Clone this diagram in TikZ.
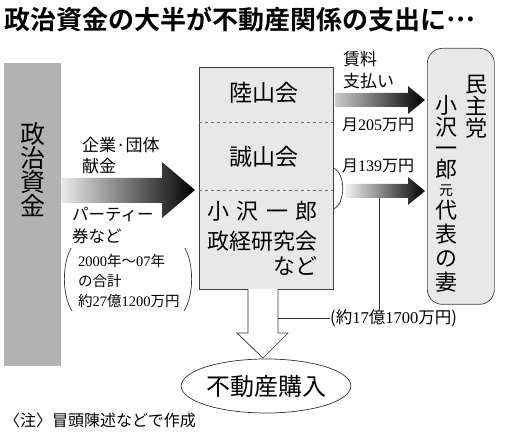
\documentclass[tikz,border=0pt]{standalone}
\usepackage{fontspec}
\setmainfont{Noto Sans CJK JP}[BoldFont={Noto Sans CJK JP Bold}]
\newfontfamily\dg{Liberation Serif}
\usetikzlibrary{shapes.geometric}
\definecolor{barGray}{HTML}{B2B2B2}
\definecolor{boxGray}{HTML}{E8E8E8}
\newcommand{\fs}[1]{\fontsize{#1}{#1}\selectfont}
\tikzset{
  lbl/.style={inner sep=0pt, font=\fs{17}},
  small/.style={inner sep=0pt, font=\fs{14.5}},
  big/.style={inner sep=0pt, font=\fs{23}},
  col/.style={inner sep=0pt, font=\fs{22}, text height=16pt, text depth=2.5pt},
  divider/.style={dashed, black!55, line width=0.6pt},
  thin/.style={line width=0.7pt, black!80}
}
\begin{document}
\begin{tikzpicture}[x=1pt,y=-1pt]
\useasboundingbox (0,0) rectangle (515,441);
\fill[white] (0,0) rectangle (515,441);
% title
\node[anchor=west, inner sep=0pt, font=\fs{26}\bfseries] (title) at (4,20) {政治資金の大半が不動産関係の支出に\raisebox{8pt}{…}};
% left bar
\node[fill=barGray, minimum width=57pt, minimum height=303pt, inner sep=0pt, anchor=north west] (bar) at (4,63) {};
\node[big, font=\fs{25}] (s1) at (33,134) {政};
\node[big, font=\fs{25}] (s2) at (33,158) {治};
\node[big, font=\fs{25}] (s3) at (33,182) {資};
\node[big, font=\fs{25}] (s4) at (33,206) {金};
% big gradient arrow
\shade[left color=black!8, right color=black] (61,178) -- (162,178) -- (162,162) -- (195,190) -- (162,218) -- (162,203) -- (61,203) -- cycle;
\node[lbl, anchor=west] (kigyo) at (82,145) {企業·団体};
\node[lbl, anchor=west] (kenkin) at (82,166) {献金};
\node[lbl, font=\fs{16.5}, anchor=west] (party) at (72,214) {パーティー};
\node[lbl, font=\fs{16.5}, anchor=west] (ken) at (72,236) {券など};
\node[small, anchor=west] (p1) at (78,261) {{\dg 2000}年～{\dg 07}年};
\node[small, anchor=west] (p2) at (78,281) {の合計};
\node[small, anchor=west] (p3) at (78,301) {約{\dg 27}億{\dg 1200}万円};
\draw[thin] (71,248) .. controls (62,265) and (62,295) .. (72,311);
\draw[thin] (185,248) .. controls (194,265) and (194,295) .. (184,311);
% middle box
\node[draw=black!75, line width=0.7pt, fill=boxGray, minimum width=134pt, minimum height=222pt, inner sep=0pt, anchor=north west] (mid) at (199,67) {};
\draw[divider] (199,122) -- (333,122);
\draw[divider] (199,190) -- (333,190);
\node[big] (riku) at (264,93) {陸山会};
\node[big] (sei) at (264,157) {誠山会};
\node[col, anchor=west] (oz1) at (207,213) {小\hspace{7.5pt}沢\hspace{7.5pt}一\hspace{7.5pt}郎};
\node[col, anchor=west] (oz2) at (207,243) {政経研究会};
\node[col, anchor=east] (oz3) at (318,268) {など};
\draw[thin] (333,168) .. controls (346,172) and (346,205) .. (333,209);
% right box
\node[draw=black!75, line width=0.7pt, fill=boxGray, rounded corners=15pt, minimum width=67pt, minimum height=256pt, inner sep=0pt, anchor=north west] (wife) at (427,48) {};
\node[col] (w1) at (476,86) {民};
\node[col] (w2) at (476,108) {主};
\node[col] (w3) at (476,130) {党};
\node[col] (c1) at (446,107) {小};
\node[col] (c2) at (446,129) {沢};
\node[col] (c3) at (446,150) {一};
\node[col] (c4) at (446,171) {郎};
\node[inner sep=0pt, font=\fs{14}, text height=10pt, text depth=1.5pt] (c5) at (446,191) {元};
\node[col] (c6) at (446,212) {代};
\node[col] (c7) at (446,236) {表};
\node[col] (c8) at (446,260) {の};
\node[col] (c9) at (446,284) {妻};
% upper arrow
\shade[left color=black!20, right color=black] (335,93) -- (408,93) -- (408,86) -- (425,100) -- (408,114) -- (408,107) -- (335,107) -- cycle;
\node[lbl, anchor=west] (chin) at (343,59) {賃料};
\node[lbl, anchor=west] (shi) at (343,81) {支払い};
\node[lbl, font=\fs{16}, anchor=west] (m205) at (342,125) {月{\dg 205}万円};
% lower arrow
\shade[left color=black!4, right color=black] (345,184) -- (408,184) -- (408,177) -- (425,191) -- (408,205) -- (408,198) -- (345,198) -- cycle;
\node[lbl, font=\fs{16}, anchor=west] (m139) at (342,166) {月{\dg 139}万円};
% total label and lines
\node[lbl, font=\fs{16.5}, anchor=west] (tot) at (330,318) {({}約{\dg 17}億{\dg 1700}万円)};
\coordinate (vtop) at (379,198);
\draw[thin] (vtop) -- (vtop |- tot.north);
% hollow arrow
\fill[white] (248,289) -- (248,333) -- (237,333) -- (263,358) -- (288,333) -- (278,333) -- (278,289) -- cycle;
\draw[thin] (248,289) -- (248,333) -- (237,333) -- (263,358) -- (288,333) -- (278,333) -- (278,289);
\coordinate (hr) at (278,318);
\draw[thin] (hr) -- (tot.west);
% ellipse
\node[ellipse, draw=black!80, line width=0.7pt, minimum width=148pt, minimum height=54pt, inner sep=0pt, font=\fs{24}] (buy) at (266,386) {不動産購入};
% footer
\node[anchor=west, inner sep=0pt, font=\fs{16}] (note) at (4,420) {〈注〉冒頭陳述などで作成};
\end{tikzpicture}
\end{document}
